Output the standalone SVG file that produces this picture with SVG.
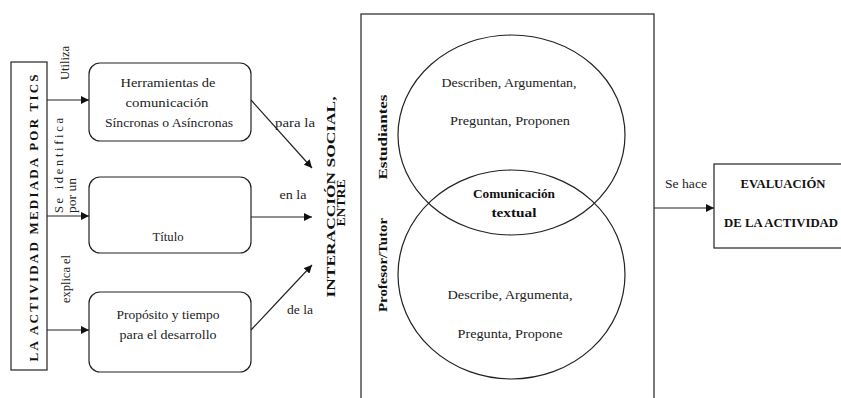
<svg xmlns="http://www.w3.org/2000/svg" width="841" height="398" viewBox="0 0 841 398" font-family="'Liberation Serif', 'DejaVu Serif', serif">
<style>
  .bx{fill:#fff;stroke:#222;stroke-width:1.2}
  .ln{fill:none;stroke:#222;stroke-width:1.2}
  text{font-family:'Liberation Serif','DejaVu Serif',serif}
  .t{font-size:12.5px;fill:#222}
  .b{font-size:12.5px;font-weight:bold;fill:#111}
  .m{text-anchor:middle}
</style>
<defs>
  <marker id="ah" markerWidth="9" markerHeight="8" refX="8" refY="4" orient="auto" markerUnits="userSpaceOnUse">
    <path d="M0,0 L8,4 L0,8 Z" fill="#111"/>
  </marker>
</defs>
<rect width="841" height="398" fill="#fff"/>

<g id="actividad">
  <rect class="bx" x="11" y="62" width="36" height="308"/>
  <text class="b m" transform="translate(38,218) rotate(-90)" textLength="287" lengthAdjust="spacing" style="font-size:13px">LA ACTIVIDAD MEDIADA POR TICS</text>
</g>

<g id="herramientas">
  <rect class="bx" x="89" y="63" width="162" height="78" rx="11"/>
  <text class="t m" x="168" y="87" textLength="95" lengthAdjust="spacingAndGlyphs">Herramientas de</text>
  <text class="t m" x="167" y="107" textLength="83" lengthAdjust="spacingAndGlyphs">comunicación</text>
  <text class="t m" x="169" y="127" textLength="128" lengthAdjust="spacingAndGlyphs">Síncronas o Asíncronas</text>
</g>

<g id="titulo">
  <rect class="bx" x="89" y="177" width="162" height="76" rx="11"/>
  <text class="t m" x="168" y="241" textLength="31" lengthAdjust="spacingAndGlyphs">Título</text>
</g>

<g id="proposito">
  <rect class="bx" x="89" y="292" width="162" height="80" rx="11"/>
  <text class="t m" x="168" y="319" textLength="103" lengthAdjust="spacingAndGlyphs">Propósito  y tiempo</text>
  <text class="t m" x="168" y="339" textLength="97" lengthAdjust="spacingAndGlyphs">para el desarrollo</text>
</g>

<g id="interaccion">
  <text class="b m" transform="translate(335,197) rotate(-90)" textLength="201" lengthAdjust="spacingAndGlyphs" style="font-size:12px">INTERACCIÓN SOCIAL,</text>
  <text class="b m" transform="translate(345,203) rotate(-90)" textLength="47" lengthAdjust="spacingAndGlyphs" style="font-size:12px">ENTRE</text>
</g>

<g id="interaccion-panel">
  <rect class="bx" x="361" y="14" width="293" height="395"/>
  <text class="b m" transform="translate(387,137) rotate(-90)" textLength="85" lengthAdjust="spacingAndGlyphs" style="font-size:12px">Estudiantes</text>
  <text class="b m" transform="translate(387,265) rotate(-90)" textLength="94" lengthAdjust="spacingAndGlyphs" style="font-size:12px">Profesor/Tutor</text>
</g>

<g id="estudiantes">
  <ellipse class="ln" cx="511.5" cy="135" rx="113.5" ry="100"/>
  <text class="t m" x="509" y="87" textLength="135" lengthAdjust="spacingAndGlyphs">Describen,  Argumentan,</text>
  <text class="t m" x="510" y="125" textLength="120" lengthAdjust="spacingAndGlyphs">Preguntan, Proponen</text>
</g>

<g id="profesor">
  <ellipse class="ln" cx="511.5" cy="274.5" rx="113.5" ry="104.5"/>
  <text class="t m" x="510" y="299" textLength="125" lengthAdjust="spacingAndGlyphs">Describe,   Argumenta,</text>
  <text class="t m" x="510" y="338" textLength="105" lengthAdjust="spacingAndGlyphs">Pregunta, Propone</text>
</g>

<g id="comunicacion">
  <text class="b m" x="514" y="198" textLength="82" lengthAdjust="spacingAndGlyphs">Comunicación</text>
  <text class="b m" x="514" y="217" textLength="45" lengthAdjust="spacingAndGlyphs">textual</text>
</g>

<g id="evaluacion">
  <rect class="bx" x="714" y="164" width="135" height="84"/>
  <text class="b m" x="783" y="188" textLength="85" lengthAdjust="spacingAndGlyphs">EVALUACIÓN</text>
  <text class="b m" x="781" y="227" textLength="114" lengthAdjust="spacingAndGlyphs">DE LA ACTIVIDAD</text>
</g>

<g id="connectors">
  <line class="ln" x1="47" y1="100" x2="89" y2="100" marker-end="url(#ah)"/>
  <line class="ln" x1="47" y1="216" x2="89" y2="216" marker-end="url(#ah)"/>
  <line class="ln" x1="47" y1="330" x2="89" y2="330" marker-end="url(#ah)"/>
  <line class="ln" x1="251" y1="100" x2="312" y2="168" marker-end="url(#ah)"/>
  <line class="ln" x1="251" y1="217" x2="312" y2="217" marker-end="url(#ah)"/>
  <line class="ln" x1="251" y1="330" x2="312" y2="265" marker-end="url(#ah)"/>
  <line class="ln" x1="654" y1="208" x2="714" y2="208" marker-end="url(#ah)"/>
  <text class="t" transform="translate(69,80) rotate(-90)" textLength="34" lengthAdjust="spacingAndGlyphs">Utiliza</text>
  <text class="t" transform="translate(63,213) rotate(-90)" textLength="95" lengthAdjust="spacing">Se    identifica</text>
  <text class="t" transform="translate(76,213) rotate(-90)" textLength="35" lengthAdjust="spacingAndGlyphs">por un</text>
  <text class="t" transform="translate(70,303) rotate(-90)" textLength="48" lengthAdjust="spacingAndGlyphs">explica el</text>
  <text class="t m" x="295" y="127" textLength="40" lengthAdjust="spacingAndGlyphs">para la</text>
  <text class="t m" x="293" y="199" textLength="27" lengthAdjust="spacingAndGlyphs">en la</text>
  <text class="t m" x="300" y="314" textLength="26" lengthAdjust="spacingAndGlyphs">de la</text>
  <text class="t m" x="686" y="188" textLength="42" lengthAdjust="spacingAndGlyphs">Se hace</text>
</g>
</svg>
